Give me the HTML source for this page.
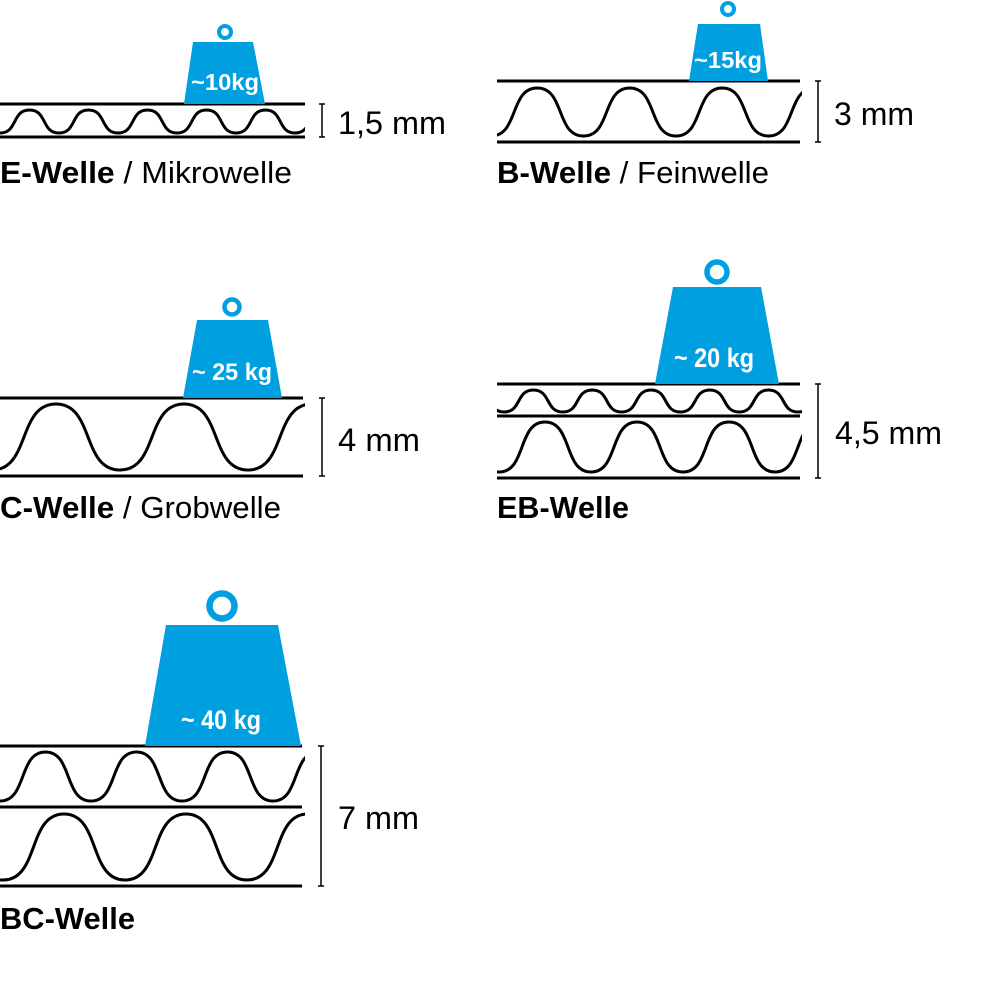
<!DOCTYPE html>
<html><head><meta charset="utf-8"><style>
html,body{margin:0;padding:0;background:#fff}
svg{display:block}
text{font-family:"Liberation Sans Narrow","Liberation Sans",sans-serif}
</style></head><body>
<svg width="988" height="992" viewBox="0 0 988 992" xmlns="http://www.w3.org/2000/svg">
<defs>
<clipPath id="cl"><rect x="0" y="0" width="305" height="992"/></clipPath>
<clipPath id="cr"><rect x="497" y="0" width="305" height="992"/></clipPath>
</defs>
<g fill="none" stroke="#000" stroke-width="3">
<!-- E -->
<line x1="0" y1="104" x2="305" y2="104"/><line x1="0" y1="137" x2="305" y2="137"/>
<path clip-path="url(#cl)" d="M-59 133 c17.7 0 11.8 -23 29.5 -23 s11.8 23 29.5 23 s11.8 -23 29.5 -23 s11.8 23 29.5 23 s11.8 -23 29.5 -23 s11.8 23 29.5 23 s11.8 -23 29.5 -23 s11.8 23 29.5 23 s11.8 -23 29.5 -23 s11.8 23 29.5 23 s11.8 -23 29.5 -23 s11.8 23 29.5 23 s11.8 -23 29.5 -23 s11.8 23 29.5 23"/>
<!-- B -->
<line x1="497" y1="81" x2="800" y2="81"/><line x1="497" y1="142" x2="800" y2="142"/>
<path clip-path="url(#cr)" d="M398.5 136 c27.75 0 18.5 -48 46.25 -48 s18.5 48 46.25 48 s18.5 -48 46.25 -48 s18.5 48 46.25 48 s18.5 -48 46.25 -48 s18.5 48 46.25 48 s18.5 -48 46.25 -48 s18.5 48 46.25 48 s18.5 -48 46.25 -48 s18.5 48 46.25 48 s18.5 -48 46.25 -48"/>
<!-- C -->
<line x1="0" y1="398" x2="303" y2="398"/><line x1="0" y1="476" x2="303" y2="476"/>
<path clip-path="url(#cl)" d="M-136 470 c38.4 0 25.6 -66 64 -66 s25.6 66 64 66 s25.6 -66 64 -66 s25.6 66 64 66 s25.6 -66 64 -66 s25.6 66 64 66 s25.6 -66 64 -66 s25.6 66 64 66 s25.6 -66 64 -66"/>
<!-- EB -->
<line x1="497" y1="384" x2="800" y2="384"/><line x1="497" y1="416" x2="800" y2="416"/><line x1="497" y1="478" x2="800" y2="478"/>
<path clip-path="url(#cr)" d="M445.2 412 c17.64 0 11.76 -22 29.4 -22 s11.76 22 29.4 22 s11.76 -22 29.4 -22 s11.76 22 29.4 22 s11.76 -22 29.4 -22 s11.76 22 29.4 22 s11.76 -22 29.4 -22 s11.76 22 29.4 22 s11.76 -22 29.4 -22 s11.76 22 29.4 22 s11.76 -22 29.4 -22 s11.76 22 29.4 22 s11.76 -22 29.4 -22 s11.76 22 29.4 22"/>
<path clip-path="url(#cr)" d="M407 472 c27.6 0 18.4 -50 46 -50 s18.4 50 46 50 s18.4 -50 46 -50 s18.4 50 46 50 s18.4 -50 46 -50 s18.4 50 46 50 s18.4 -50 46 -50 s18.4 50 46 50 s18.4 -50 46 -50 s18.4 50 46 50 s18.4 -50 46 -50"/>
<!-- BC -->
<line x1="0" y1="746" x2="302" y2="746"/><line x1="0" y1="807" x2="302" y2="807"/><line x1="0" y1="886" x2="302" y2="886"/>
<path clip-path="url(#cl)" d="M-91 801 c27.3 0 18.2 -49 45.5 -49 s18.2 49 45.5 49 s18.2 -49 45.5 -49 s18.2 49 45.5 49 s18.2 -49 45.5 -49 s18.2 49 45.5 49 s18.2 -49 45.5 -49 s18.2 49 45.5 49 s18.2 -49 45.5 -49 s18.2 49 45.5 49 s18.2 -49 45.5 -49"/>
<path clip-path="url(#cl)" d="M-119 880 c36.6 0 24.4 -66 61 -66 s24.4 66 61 66 s24.4 -66 61 -66 s24.4 66 61 66 s24.4 -66 61 -66 s24.4 66 61 66 s24.4 -66 61 -66 s24.4 66 61 66 s24.4 -66 61 -66"/>
</g>
<!-- brackets -->
<g stroke="#000" stroke-width="1.5" fill="none">
<path d="M322 104 V137 M319 104 H325 M319 137 H325"/>
<path d="M818 81 V142 M815 81 H821 M815 142 H821"/>
<path d="M322 398 V476 M319 398 H325 M319 476 H325"/>
<path d="M818 384 V478 M815 384 H821 M815 478 H821"/>
<path d="M321 746 V886 M318 746 H324 M318 886 H324"/>
</g>
<!-- weights -->
<g fill="#009FE0">
<polygon points="193,42 253,42 265,104 184,104"/>
<polygon points="698,24 760,24 768,81 689,81"/>
<polygon points="197,320 268,320 282,398 183,398"/>
<polygon points="673,287 761,287 779,384 655,384"/>
<polygon points="166,625 278,625 301,746 145,746"/>
</g>
<g fill="none" stroke="#009FE0">
<circle cx="225" cy="32" r="6" stroke-width="4"/>
<circle cx="728" cy="9" r="6" stroke-width="4"/>
<circle cx="232" cy="307" r="7.5" stroke-width="4.5"/>
<circle cx="717" cy="272" r="10" stroke-width="5.5"/>
<circle cx="222" cy="606" r="12.5" stroke-width="6.5"/>
</g>
<g fill="#fff" font-weight="bold" text-anchor="middle">
<text x="225" y="90" font-size="23" textLength="68" lengthAdjust="spacingAndGlyphs">~10kg</text>
<text x="728" y="68" font-size="23" textLength="68" lengthAdjust="spacingAndGlyphs">~15kg</text>
<text x="232" y="380" font-size="24" textLength="80" lengthAdjust="spacingAndGlyphs">~ 25 kg</text>
<text x="714" y="367" font-size="27" textLength="80" lengthAdjust="spacingAndGlyphs">~ 20 kg</text>
<text x="221" y="729" font-size="27" textLength="80" lengthAdjust="spacingAndGlyphs">~ 40 kg</text>
</g>
<g fill="#000" font-size="32">
<text x="338" y="134" textLength="108" lengthAdjust="spacingAndGlyphs">1,5 mm</text>
<text x="834" y="125" textLength="80" lengthAdjust="spacingAndGlyphs">3 mm</text>
<text x="338" y="451" textLength="82" lengthAdjust="spacingAndGlyphs">4 mm</text>
<text x="835" y="444" textLength="107" lengthAdjust="spacingAndGlyphs">4,5 mm</text>
<text x="338" y="829" textLength="81" lengthAdjust="spacingAndGlyphs">7 mm</text>
</g>
<g fill="#000" font-size="31">
<text x="0" y="183" textLength="292" lengthAdjust="spacingAndGlyphs"><tspan font-weight="bold">E-Welle</tspan> / Mikrowelle</text>
<text x="497" y="183" textLength="272" lengthAdjust="spacingAndGlyphs"><tspan font-weight="bold">B-Welle</tspan> / Feinwelle</text>
<text x="0" y="518" textLength="281" lengthAdjust="spacingAndGlyphs"><tspan font-weight="bold">C-Welle</tspan> / Grobwelle</text>
<text x="497" y="518" font-weight="bold" textLength="132" lengthAdjust="spacingAndGlyphs">EB-Welle</text>
<text x="0" y="929" font-weight="bold" textLength="135" lengthAdjust="spacingAndGlyphs">BC-Welle</text>
</g>
</svg>
</body></html>
